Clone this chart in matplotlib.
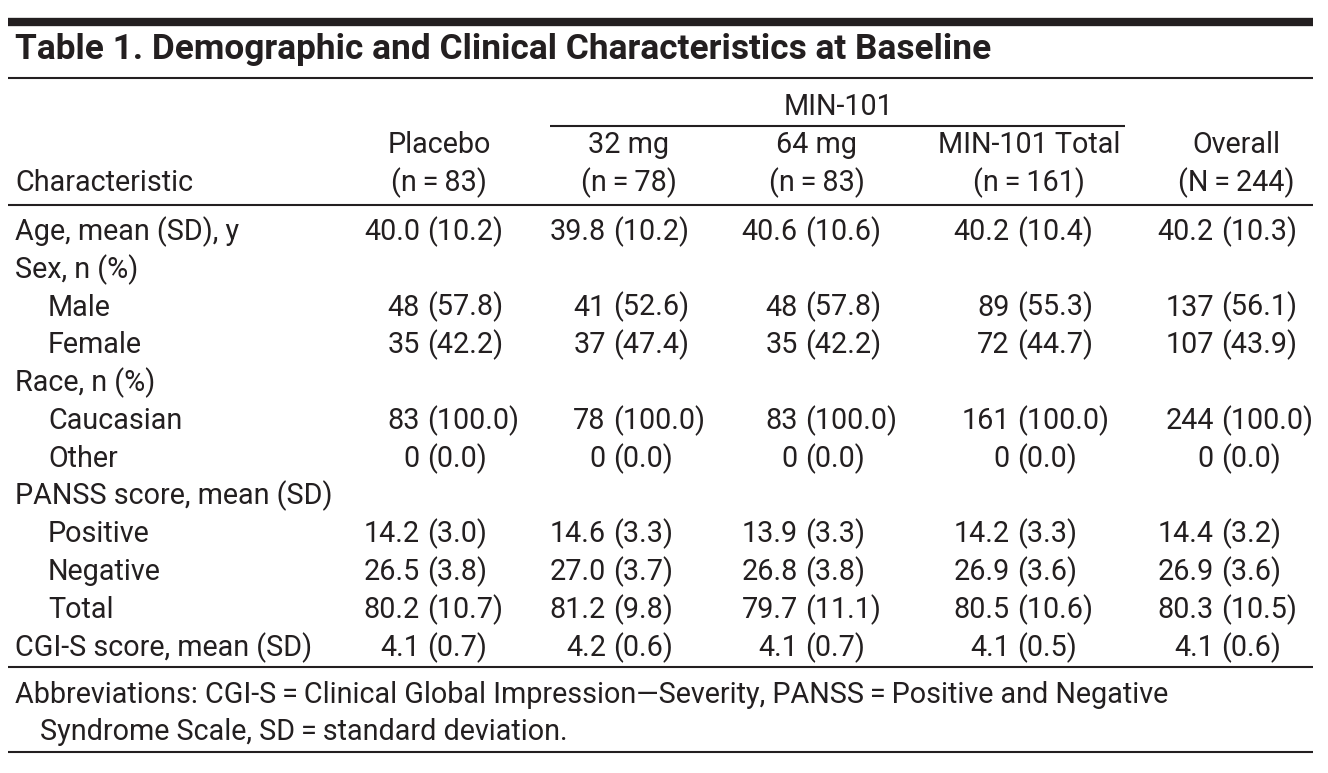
import matplotlib
matplotlib.use("Agg")
import matplotlib.pyplot as plt
from matplotlib import font_manager

W, H = 1328, 773
INK = "#231f20"

installed = {f.name for f in font_manager.fontManager.ttflist}
FAMILY = "Liberation Sans Narrow" if "Liberation Sans Narrow" in installed else "Roboto"
plt.rcParams["font.family"] = [FAMILY, "DejaVu Sans"]

# table content
title = "Table 1. Demographic and Clinical Characteristics at Baseline"
group_label = "MIN-101"
col_names = ["Placebo", "32 mg", "64 mg", "MIN-101 Total", "Overall"]
col_n = ["(n\u2009=\u200983)", "(n\u2009=\u200978)", "(n\u2009=\u200983)",
         "(n\u2009=\u2009161)", "(N\u2009=\u2009244)"]
row_labels = ["Age, mean (SD), y", "Sex, n (%)", "Male", "Female", "Race, n (%)",
              "Caucasian", "Other", "PANSS score, mean (SD)", "Positive",
              "Negative", "Total", "CGI-S score, mean (SD)"]
row_indent = [0, 0, 1, 1, 0, 1, 1, 0, 1, 1, 1, 0]

placebo = ["40.0 (10.2)", "", "48 (57.8)", "35 (42.2)", "", "83 (100.0)", "0 (0.0)",
           "", "14.2 (3.0)", "26.5 (3.8)", "80.2 (10.7)", "4.1 (0.7)"]
mg32 = ["39.8 (10.2)", "", "41 (52.6)", "37 (47.4)", "", "78 (100.0)", "0 (0.0)",
        "", "14.6 (3.3)", "27.0 (3.7)", "81.2 (9.8)", "4.2 (0.6)"]
mg64 = ["40.6 (10.6)", "", "48 (57.8)", "35 (42.2)", "", "83 (100.0)", "0 (0.0)",
        "", "13.9 (3.3)", "26.8 (3.8)", "79.7 (11.1)", "4.1 (0.7)"]
min_total = ["40.2 (10.4)", "", "89 (55.3)", "72 (44.7)", "", "161 (100.0)", "0 (0.0)",
             "", "14.2 (3.3)", "26.9 (3.6)", "80.5 (10.6)", "4.1 (0.5)"]
overall = ["40.2 (10.3)", "", "137 (56.1)", "107 (43.9)", "", "244 (100.0)", "0 (0.0)",
           "", "14.4 (3.2)", "26.9 (3.6)", "80.3 (10.5)", "4.1 (0.6)"]

footnote_1 = ("Abbreviations: CGI-S\u2009=\u2009Clinical Global Impression\u2014Severity, "
              "PANSS\u2009=\u2009Positive and Negative")
footnote_2 = "Syndrome Scale, SD\u2009=\u2009standard deviation."

# layout (pixels, y downwards)
LEFT, RIGHT = 8, 1313
TEXT_X = 15
INDENT = 33
col_center = [439, 629, 817, 1029, 1236]
col_paren = [427, 613, 805, 1017, 1221]
row_base0 = 240
row_step = 37.8

fig = plt.figure(figsize=(W / 100, H / 100), dpi=100)
ax = fig.add_axes([0, 0, 1, 1])
ax.set_xlim(0, W)
ax.set_ylim(H, 0)
ax.axis("off")
renderer = fig.canvas.get_renderer()


def fit_size(text, width_px, weight="normal"):
    t = ax.text(0, 0, text, fontsize=20, fontweight=weight)
    w = t.get_window_extent(renderer).width
    t.remove()
    return 20 * width_px / w


body_fs = fit_size("Characteristic", 178)
title_fs = fit_size(title, 975, weight="bold")


def put(x, y, s, ha="left", fs=None, **kw):
    ax.text(x, y, s, ha=ha, va="baseline", fontsize=fs or body_fs, color=INK, **kw)


def hline(y, x0=LEFT, x1=RIGHT, lw=1.5):
    ax.plot([x0, x1], [y, y], color=INK, lw=lw, solid_capstyle="butt")


# rules
hline(22, lw=6)
hline(77.5)
hline(125.5, 550, 1125)
hline(205)
hline(667)
hline(752)

put(TEXT_X, 59, title, fs=title_fs, fontweight="bold")

put(838, 115, group_label, ha="center")
for cx, name, n in zip(col_center, col_names, col_n):
    put(cx, 153, name, ha="center")
    put(cx, 191, n, ha="center")
put(TEXT_X, 191, "Characteristic")

# space width between count and parenthesis
t = ax.text(0, 0, "0 (", fontsize=body_fs)
t2 = ax.text(0, 0, "0(", fontsize=body_fs)
gap = t.get_window_extent(renderer).width - t2.get_window_extent(renderer).width
t.remove()
t2.remove()

columns = [placebo, mg32, mg64, min_total, overall]
for i, label in enumerate(row_labels):
    y = row_base0 + i * row_step
    put(TEXT_X + INDENT * row_indent[i], y, label)
    for px, col in zip(col_paren, columns):
        cell = col[i]
        if not cell:
            continue
        num, sd = cell.split(" ")
        put(px - gap, y, num, ha="right")
        put(px, y, sd, ha="left")

put(TEXT_X, 703, footnote_1)
put(40, 740, footnote_2)

fig.savefig("out.png", dpi=100, facecolor="white")
